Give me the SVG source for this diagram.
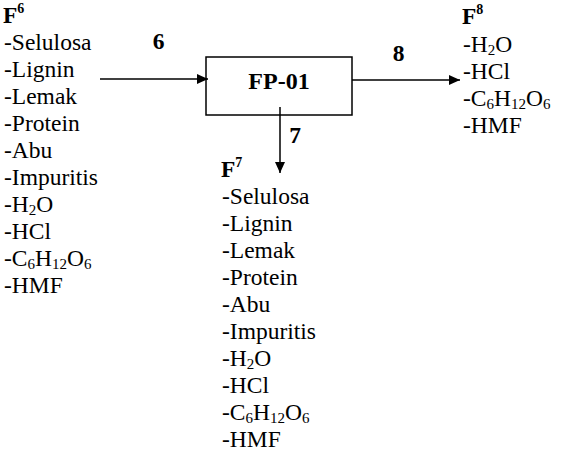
<svg xmlns="http://www.w3.org/2000/svg" width="563" height="462" viewBox="0 0 563 462">
  <defs>
    <marker id="arrow" viewBox="0 0 11 10" refX="11" refY="5" markerWidth="11" markerHeight="10" markerUnits="userSpaceOnUse" orient="auto">
      <path d="M0,0 L11,5 L0,10 z" fill="#000"/>
    </marker>
    <style>
      text { font-family: "Liberation Serif", "Times New Roman", serif; fill: #000; font-size: 23.5px; }
      .b { font-weight: bold; }
      .sub { font-size: 15px; }
      .sup { font-size: 14px; font-weight: bold; }
      .line { stroke: #000; stroke-width: 1.5; fill: none; }
    </style>
  </defs>
  <rect width="563" height="462" fill="#fff"/>

  <!-- stream 6 composition -->
  <g id="stream-f6">
    <text x="3" y="23" class="b">F<tspan class="sup" dy="-10">6</tspan></text>
    <text x="4" y="50">-Selulosa</text>
    <text x="4" y="77">-Lignin</text>
    <text x="4" y="104">-Lemak</text>
    <text x="4" y="131">-Protein</text>
    <text x="4" y="158">-Abu</text>
    <text x="4" y="185">-Impuritis</text>
    <text x="4" y="212">-H<tspan class="sub" dy="3">2</tspan><tspan dy="-3">O</tspan></text>
    <text x="4" y="239">-HCl</text>
    <text x="4" y="266">-C<tspan class="sub" dy="3">6</tspan><tspan dy="-3">H</tspan><tspan class="sub" dy="3">12</tspan><tspan dy="-3">O</tspan><tspan class="sub" dy="3">6</tspan></text>
    <text x="4" y="293">-HMF</text>
  </g>

  <!-- filter press unit -->
  <g id="fp-01">
    <rect x="206" y="57" width="146" height="58" class="line"/>
    <text x="279" y="89" class="b" text-anchor="middle" style="font-size:24px">FP-01</text>
  </g>

  <!-- stream 8 composition -->
  <g id="stream-f8">
    <text x="462" y="24" class="b">F<tspan class="sup" dy="-10">8</tspan></text>
    <text x="463" y="52">-H<tspan class="sub" dy="3">2</tspan><tspan dy="-3">O</tspan></text>
    <text x="463" y="79">-HCl</text>
    <text x="463" y="106">-C<tspan class="sub" dy="3">6</tspan><tspan dy="-3">H</tspan><tspan class="sub" dy="3">12</tspan><tspan dy="-3">O</tspan><tspan class="sub" dy="3">6</tspan></text>
    <text x="463" y="133">-HMF</text>
  </g>

  <!-- stream 7 composition -->
  <g id="stream-f7">
    <text x="221" y="177" class="b">F<tspan class="sup" dy="-10">7</tspan></text>
    <text x="222" y="204">-Selulosa</text>
    <text x="222" y="231">-Lignin</text>
    <text x="222" y="258">-Lemak</text>
    <text x="222" y="285">-Protein</text>
    <text x="222" y="312">-Abu</text>
    <text x="222" y="339">-Impuritis</text>
    <text x="222" y="366">-H<tspan class="sub" dy="3">2</tspan><tspan dy="-3">O</tspan></text>
    <text x="222" y="393">-HCl</text>
    <text x="222" y="420">-C<tspan class="sub" dy="3">6</tspan><tspan dy="-3">H</tspan><tspan class="sub" dy="3">12</tspan><tspan dy="-3">O</tspan><tspan class="sub" dy="3">6</tspan></text>
    <text x="222" y="447">-HMF</text>
  </g>

  <!-- connectors -->
  <g id="connectors">
    <line x1="100" y1="79" x2="208" y2="79" class="line" marker-end="url(#arrow)"/>
    <text x="158.5" y="48.5" class="b" text-anchor="middle">6</text>
    <line x1="352" y1="80" x2="460" y2="80" class="line" marker-end="url(#arrow)"/>
    <text x="398.5" y="60.5" class="b" text-anchor="middle">8</text>
    <line x1="280" y1="107" x2="280" y2="173" class="line" marker-end="url(#arrow)"/>
    <text x="295" y="142.5" class="b" text-anchor="middle">7</text>
  </g>
</svg>
